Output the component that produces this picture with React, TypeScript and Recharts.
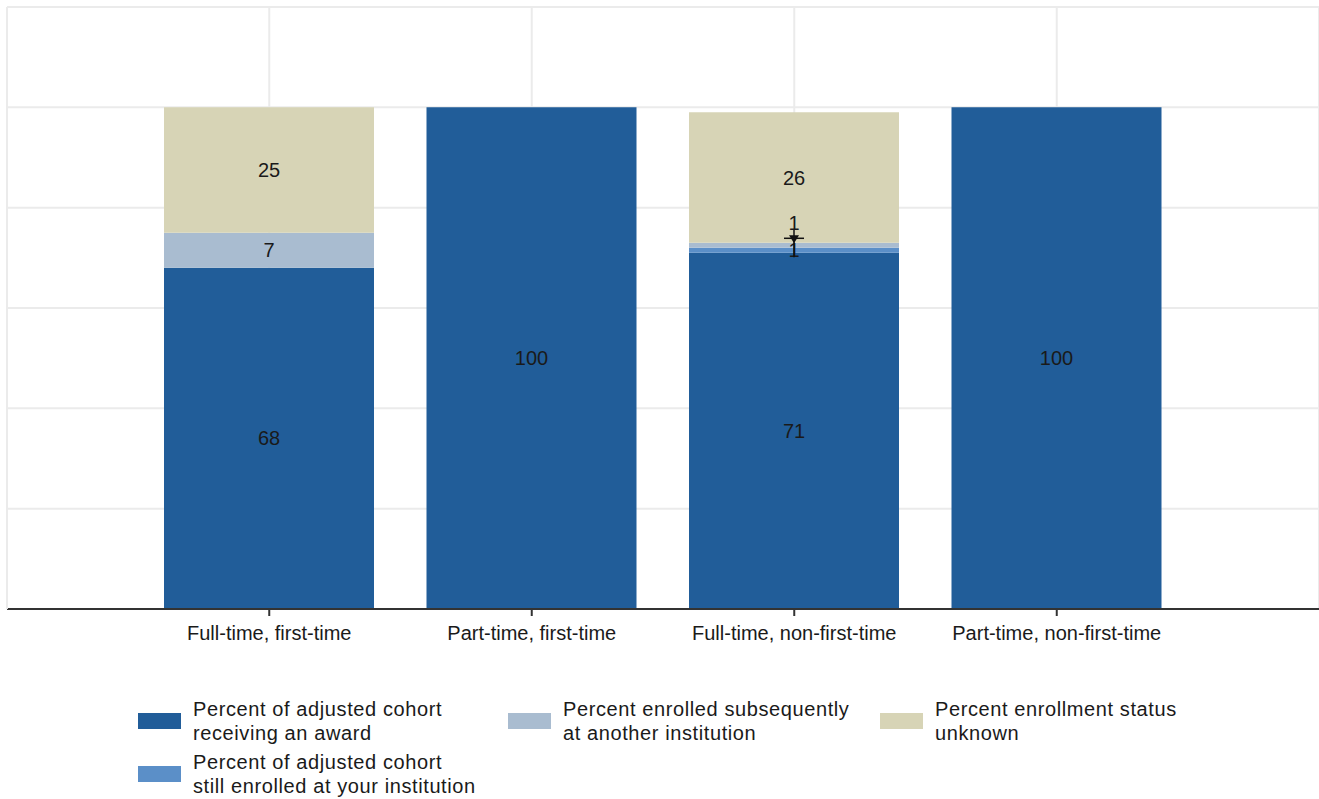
import React from 'react';
import { BarChart, Bar, XAxis, YAxis, CartesianGrid, Legend, LabelList } from 'recharts';

const categories = [
  'Full-time, first-time',
  'Part-time, first-time',
  'Full-time, non-first-time',
  'Part-time, non-first-time',
];
const awardValues = [68, 100, 71, 100];
const stillEnrolledValues = [0, 0, 1, 0];
const otherInstitutionValues = [7, 0, 1, 0];
const unknownValues = [25, 0, 26, 0];
const yTicks = [0, 20, 40, 60, 80, 100, 120];

const seriesLabels = {
  award: ['Percent of adjusted cohort', 'receiving an award'],
  still: ['Percent of adjusted cohort', 'still enrolled at your institution'],
  other: ['Percent enrolled subsequently', 'at another institution'],
  unknown: ['Percent enrollment status', 'unknown'],
};

// legend cell (row, column) for each series, filled column by column
const legendCells = {
  award: [1, 1],
  still: [2, 1],
  other: [1, 2],
  unknown: [1, 3],
};

const COLORS = {
  award: '#215d99',
  still: '#5b8fc8',
  other: '#a9bcd0',
  unknown: '#d7d4b6',
};

const data = categories.map((name, i) => ({
  name,
  award: awardValues[i],
  still: stillEnrolledValues[i],
  other: otherInstitutionValues[i],
  unknown: unknownValues[i],
}));

const FONT = '"Liberation Sans", Arial, sans-serif';

// centred value label; tiny segments get pushed up with a leader
const SegmentLabel = (props: any) => {
  const { x, y, width, height, value, lifted } = props;
  if (!value) return null;
  const cx = x + width / 2;
  const cy = y + height / 2;
  if (lifted && height < 12) {
    const ty = cy - 22;
    return (
      <g>
        <line x1={cx} y1={ty + 6} x2={cx} y2={cy + 12} stroke="#111" strokeWidth={1.5} />
        <line x1={cx - 10} y1={cy - 7} x2={cx + 10} y2={cy - 7} stroke="#111" strokeWidth={1.5} />
        <path d={`M${cx - 5},${cy - 10} L${cx + 5},${cy - 10} L${cx},${cy - 2} Z`} fill="#111" />
        <text x={cx} y={ty} textAnchor="middle" dominantBaseline="central" fontSize={20} fontFamily={FONT} fill="#1a1a1a">
          {value}
        </text>
      </g>
    );
  }
  return (
    <text x={cx} y={cy} textAnchor="middle" dominantBaseline="central" fontSize={20} fontFamily={FONT} fill="#1a1a1a">
      {value}
    </text>
  );
};

const LegendContent = (props: any) => {
  const { payload } = props;
  return (
    <div
      style={{
        display: 'grid',
        gridTemplateRows: '48px 48px',
        gridTemplateColumns: '370px 372px 320px',
        rowGap: 5,
        fontFamily: FONT,
        fontSize: 20,
        lineHeight: '24px',
        letterSpacing: '0.6px',
        color: '#1a1a1a',
      }}
    >
      {(payload || []).map((entry: any) => {
        const key = entry.dataKey as keyof typeof seriesLabels;
        const [row, col] = legendCells[key];
        return (
          <div key={key} style={{ display: 'flex', alignItems: 'center', gridRow: row, gridColumn: col }}>
            <div style={{ width: 43, height: 16, background: entry.color, marginRight: 12, flexShrink: 0 }} />
            <div style={{ whiteSpace: 'nowrap' }}>
              {seriesLabels[key].map((line) => (
                <div key={line}>{line}</div>
              ))}
            </div>
          </div>
        );
      })}
    </div>
  );
};

export default function App() {
  return (
    <div style={{ position: 'absolute', left: 0, top: 0, width: 1319, height: 799, background: '#fff' }}>
      <BarChart
        width={1319}
        height={799}
        data={data}
        margin={{ top: 7, right: 0, left: 6, bottom: 150 }}
      >
        <CartesianGrid stroke="#ebebeb" strokeWidth={2} />
        <XAxis
          dataKey="name"
          padding={{ left: 131, right: 131 }}
          height={40}
          tickSize={7}
          tickMargin={10}
          stroke="#333"
          strokeWidth={2}
          tick={{ fontSize: 20, fontFamily: FONT, fill: '#1a1a1a' }}
        />
        <YAxis
          width={1}
          domain={[0, 120]}
          ticks={yTicks}
          tick={() => <g />}
          tickLine={false}
          axisLine={{ stroke: '#ebebeb', strokeWidth: 2 }}
        />
        <Legend
          layout="horizontal"
          verticalAlign="middle"
          align="center"
          wrapperStyle={{ left: 138, top: 697, width: 1100 }}
          content={<LegendContent />}
        />
        <Bar dataKey="award" stackId="a" fill={COLORS.award} barSize={210} isAnimationActive={false}>
          <LabelList dataKey="award" content={<SegmentLabel />} />
        </Bar>
        <Bar dataKey="still" stackId="a" fill={COLORS.still} barSize={210} isAnimationActive={false}>
          <LabelList dataKey="still" content={<SegmentLabel />} />
        </Bar>
        <Bar dataKey="other" stackId="a" fill={COLORS.other} barSize={210} isAnimationActive={false}>
          <LabelList dataKey="other" content={<SegmentLabel lifted />} />
        </Bar>
        <Bar dataKey="unknown" stackId="a" fill={COLORS.unknown} barSize={210} isAnimationActive={false}>
          <LabelList dataKey="unknown" content={<SegmentLabel />} />
        </Bar>
      </BarChart>
    </div>
  );
}
